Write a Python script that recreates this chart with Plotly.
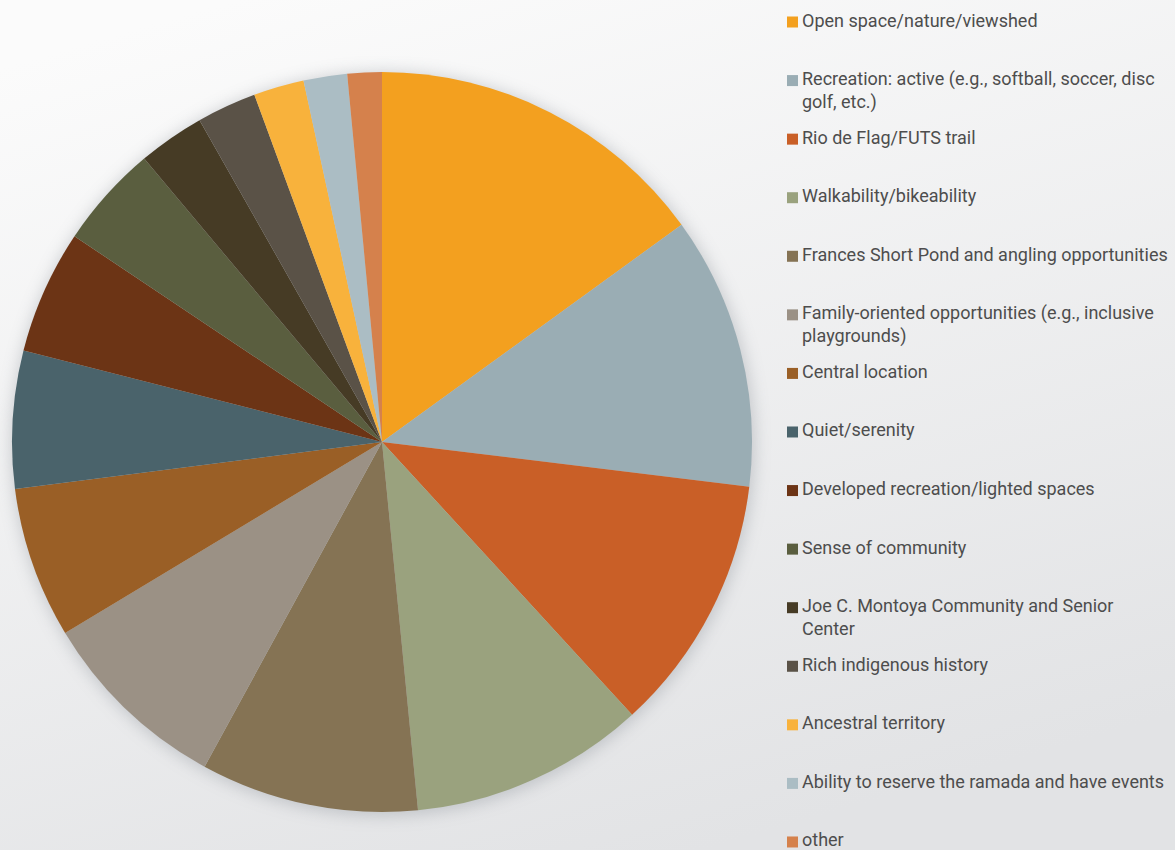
import base64
import plotly.graph_objects as go

# ---------------- data ----------------
labels = [
    "Open space/nature/viewshed",
    "Recreation: active (e.g., softball, soccer, disc golf, etc.)",
    "Rio de Flag/FUTS trail",
    "Walkability/bikeability",
    "Frances Short Pond and angling opportunities",
    "Family-oriented opportunities (e.g., inclusive playgrounds)",
    "Central location",
    "Quiet/serenity",
    "Developed recreation/lighted spaces",
    "Sense of community",
    "Joe C. Montoya Community and Senior Center",
    "Rich indigenous history",
    "Ancestral territory",
    "Ability to reserve the ramada and have events",
    "other",
]
values = [15.0, 11.9, 11.25, 10.25, 9.5, 8.4, 6.6, 6.0, 5.4, 4.5, 2.9, 2.6, 2.2, 1.9, 1.5]
colors = [
    "#F3A01F", "#9AADB4", "#C95F27", "#9AA27E", "#857354",
    "#9B9185", "#9A5F26", "#4A636B", "#6C3415", "#5A5E3F",
    "#463B25", "#5A5247", "#F8B23C", "#ABBDC4", "#D5814C",
]
# legend line breaks as in the reference
wrap_after = {
    "Recreation: active (e.g., softball, soccer, disc golf, etc.)": "Recreation: active (e.g., softball, soccer, disc<br>golf, etc.)",
    "Family-oriented opportunities (e.g., inclusive playgrounds)": "Family-oriented opportunities (e.g., inclusive<br>playgrounds)",
    "Joe C. Montoya Community and Senior Center": "Joe C. Montoya Community and Senior<br>Center",
}

# ---------------- layout constants ----------------
W, H = 1175, 850
CX, CY, R = 382, 442, 370  # pie centre / radius in pixels
FONT = "Liberation Sans Narrow, Roboto, Arial Narrow, sans-serif"

fig = go.Figure()
fig.add_trace(go.Pie(
    labels=labels,
    values=values,
    sort=False,
    direction="clockwise",
    rotation=0,
    marker=dict(colors=colors, line=dict(width=0)),
    textinfo="none",
    hoverinfo="label+percent",
    showlegend=False,
    domain=dict(x=[(CX - R) / W, (CX + R) / W],
                y=[(H - CY - R) / H, (H - CY + R) / H]),
))

# background gradient + soft shadow around the pie
svg = f"""<svg xmlns='http://www.w3.org/2000/svg' width='{W}' height='{H}' viewBox='0 0 {W} {H}'>
<defs>
<linearGradient id='g' x1='0.2' y1='0' x2='0.6' y2='1'>
<stop offset='0' stop-color='#fbfbfb'/><stop offset='1' stop-color='#e2e3e5'/>
</linearGradient>
<filter id='b' x='-20%' y='-20%' width='140%' height='140%'><feGaussianBlur stdDeviation='8'/></filter>
</defs>
<rect width='{W}' height='{H}' fill='url(#g)'/>
<circle cx='{CX+1}' cy='{CY+2}' r='{R+2}' fill='#7d838b' opacity='0.35' filter='url(#b)'/>
</svg>"""
src = "data:image/svg+xml;base64," + base64.b64encode(svg.encode()).decode()

# ---------------- legend (custom, to match spacing) ----------------
LEG_SW_X0, LEG_SW_X1 = 787, 798
LEG_TX = 801
BASE0, STEP = 27.5, 58.57
SW = 11
shapes, annotations = [], []
for i, (lab, col) in enumerate(zip(labels, colors)):
    base = BASE0 + STEP * i
    shapes.append(dict(type="rect", xref="paper", yref="paper",
                       x0=LEG_SW_X0 / W, x1=LEG_SW_X1 / W,
                       y0=1 - base / H, y1=1 - (base - SW) / H,
                       fillcolor=col, line=dict(width=0), layer="above"))
    annotations.append(dict(
        text=wrap_after.get(lab, lab), xref="paper", yref="paper",
        x=LEG_TX / W, y=1 - (base - 19) / H,
        xanchor="left", yanchor="top", align="left", showarrow=False,
        font=dict(family=FONT, size=18, color="#4d4d4d"),
        borderpad=0,
    ))

fig.update_layout(
    width=W, height=H,
    margin=dict(l=0, r=0, t=0, b=0),
    paper_bgcolor="#eeeeef",
    plot_bgcolor="rgba(0,0,0,0)",
    images=[dict(source=src, xref="paper", yref="paper", x=0, y=1,
                 sizex=1, sizey=1, xanchor="left", yanchor="top",
                 sizing="stretch", layer="below")],
    shapes=shapes,
    annotations=annotations,
)

fig.write_html(
    "out.html",
    config={"displayModeBar": False},
    post_script="document.body.style.margin='0';document.body.style.padding='0';"
                "document.body.style.overflow='hidden';",
)
